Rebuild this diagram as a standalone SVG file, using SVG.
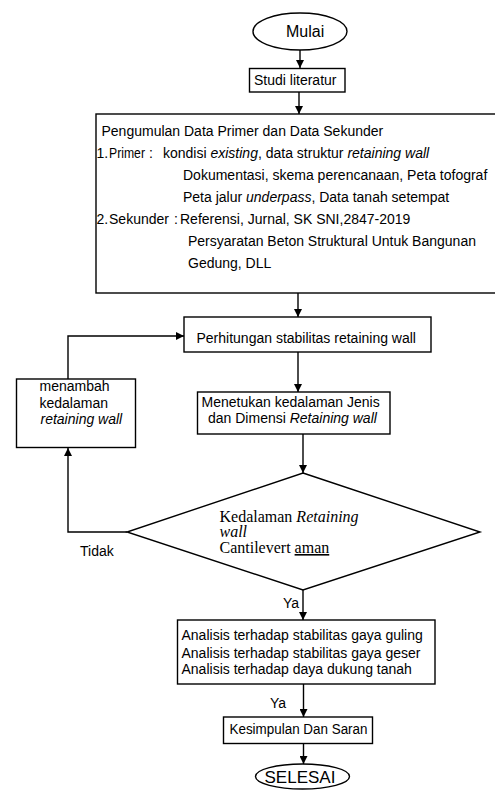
<svg xmlns="http://www.w3.org/2000/svg" width="495" height="793" viewBox="0 0 495 793">
<style>
.s{fill:#fff;stroke:#000;stroke-width:1.4}
.t{font-family:"Liberation Sans",Arial,sans-serif;font-size:14px;fill:#000}
.r{font-family:"Liberation Serif","Times New Roman",serif;font-size:16px;fill:#000}
.c{fill:none;stroke:#000;stroke-width:1.4}
.i{font-style:italic}
</style>
<defs>
<marker id="a" markerUnits="userSpaceOnUse" markerWidth="9" markerHeight="8" refX="8" refY="4" orient="auto">
<path d="M0,0 L8,4 L0,8 z" fill="#000"/>
</marker>
</defs>
<rect width="495" height="793" fill="#fff"/>
<g id="connectors">
<path class="c" d="M300,50 V68" marker-end="url(#a)"/>
<path class="c" d="M299,92 V114" marker-end="url(#a)"/>
<path class="c" d="M298,293 V317" marker-end="url(#a)"/>
<path class="c" d="M298,352 V392" marker-end="url(#a)"/>
<path class="c" d="M303,434 V473" marker-end="url(#a)"/>
<path class="c" d="M127,532 H68 V448" marker-end="url(#a)"/>
<path class="c" d="M68,379 V336 H184" marker-end="url(#a)"/>
<path class="c" d="M303,590 V620" marker-end="url(#a)"/>
<path class="c" d="M303.5,684 V717" marker-end="url(#a)"/>
<path class="c" d="M303.5,743 V764" marker-end="url(#a)"/>
</g>
<g id="mulai">
<ellipse class="s" cx="300" cy="31.5" rx="47" ry="18.5"/>
<text class="t" x="286" y="37" style="font-size:16px">Mulai</text>
</g>
<g id="studi">
<rect class="s" x="249.5" y="68.5" width="95.5" height="23.5"/>
<text class="t" x="254" y="85">Studi literatur</text>
</g>
<g id="data">
<rect class="s" x="96" y="114" width="410" height="179"/>
<text class="t" x="101.5" y="136">Pengumulan Data Primer dan Data Sekunder</text>
<text class="t" x="96.5" y="158">1.</text>
<text class="t" x="109" y="158" textLength="36" lengthAdjust="spacingAndGlyphs">Primer</text>
<text class="t" x="149" y="158">:</text>
<text class="t" x="163" y="158">kondisi <tspan class="i">existing</tspan>, data struktur <tspan class="i">retaining wall</tspan></text>
<text class="t" x="183" y="180">Dokumentasi, skema perencanaan, Peta tofograf</text>
<text class="t" x="183" y="202">Peta jalur <tspan class="i">underpass</tspan>, Data tanah setempat</text>
<text class="t" x="96.5" y="224">2.</text>
<text class="t" x="109" y="224" textLength="60" lengthAdjust="spacingAndGlyphs">Sekunder</text>
<text class="t" x="174" y="224">:</text>
<text class="t" x="180" y="224">Referensi, Jurnal, SK SNI,2847-2019</text>
<text class="t" x="188" y="246">Persyaratan Beton Struktural Untuk Bangunan</text>
<text class="t" x="188" y="268">Gedung, DLL</text>
</g>
<g id="perhitungan">
<rect class="s" x="184" y="317" width="247" height="35"/>
<text class="t" x="196.5" y="343">Perhitungan stabilitas retaining wall</text>
</g>
<g id="menambah">
<rect class="s" x="16.5" y="379" width="119" height="68.5"/>
<text class="t" x="39.5" y="391">menambah</text>
<text class="t" x="39.5" y="407.5">kedalaman</text>
<text class="t i" x="40.5" y="424">retaining wall</text>
</g>
<g id="menetukan">
<rect class="s" x="197.5" y="392" width="192.5" height="42"/>
<text class="t" x="201.5" y="406.5">Menetukan kedalaman Jenis</text>
<text class="t" x="208" y="422.5">dan Dimensi <tspan class="i">Retaining wall</tspan></text>
</g>
<g id="keputusan">
<polygon class="s" points="303,473 480,532 303,590 127,532"/>
<text class="r" x="219.5" y="521.5">Kedalaman <tspan class="i">Retaining</tspan></text>
<text class="r i" x="219.5" y="537">wall</text>
<text class="r" x="219.5" y="553">Cantilevert <tspan text-decoration="underline">aman</tspan></text>
</g>
<g id="labels">
<text class="t" x="80" y="556">Tidak</text>
<text class="t" x="283" y="608">Ya</text>
<text class="t" x="270" y="707.5">Ya</text>
</g>
<g id="analisis">
<rect class="s" x="177.5" y="620" width="257.5" height="64"/>
<text class="t" x="181.5" y="640">Analisis terhadap stabilitas gaya guling</text>
<text class="t" x="181.5" y="657.5">Analisis terhadap stabilitas gaya geser</text>
<text class="t" x="181.5" y="674">Analisis terhadap daya dukung tanah</text>
</g>
<g id="kesimpulan">
<rect class="s" x="223.5" y="717" width="149" height="26.5"/>
<text class="t" x="229.5" y="733.5" textLength="138" lengthAdjust="spacingAndGlyphs">Kesimpulan Dan Saran</text>
</g>
<g id="selesai">
<ellipse class="s" cx="302.5" cy="776.5" rx="47" ry="12.5"/>
<text class="t" x="264.5" y="782.5" style="font-size:17px">SELESAI</text>
</g>
</svg>
